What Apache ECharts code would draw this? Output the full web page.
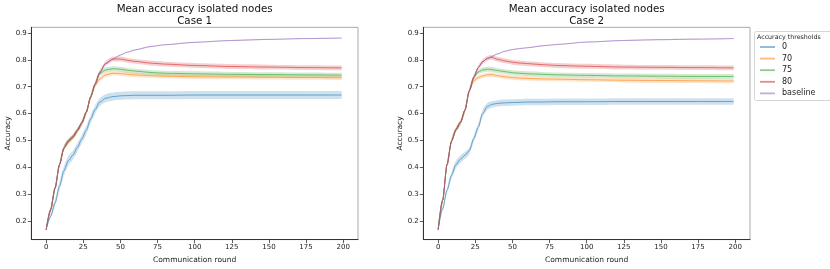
<!DOCTYPE html>
<html><head><meta charset="utf-8">
<script src="https://cdn.jsdelivr.net/npm/echarts@6/dist/echarts.min.js"></script>
<style>html,body{margin:0;padding:0;background:#fff}#c{width:830px;height:269px}</style>
</head><body><div id="c"></div>
<script>
// ---- data ----
const rounds = [0,3,6,9,12,15,18,21,24,27,30,33,36,40,45,50,55,60,70,80,100,125,150,175,199];
const seriesNames = ['0','70','75','80','baseline'];
const colors = ['#1f77b4','#ff7f0e','#2ca02c','#d62728','#9467bd'];
const xTicks = [0,25,50,75,100,125,150,175,200];
const yTicks = [0.2,0.3,0.4,0.5,0.6,0.7,0.8,0.9];
const titles = ['Mean accuracy isolated nodes\nCase 1','Mean accuracy isolated nodes\nCase 2'];

// Case 1
const case1_0        = [0.168,0.217,0.268,0.330,0.388,0.425,0.445,0.474,0.505,0.538,0.580,0.615,0.642,0.657,0.663,0.666,0.667,0.668,0.668,0.668,0.669,0.669,0.669,0.669,0.669];
const case1_70       = [0.168,0.242,0.323,0.410,0.472,0.497,0.513,0.537,0.565,0.605,0.662,0.705,0.728,0.744,0.750,0.749,0.746,0.744,0.741,0.739,0.737,0.736,0.735,0.734,0.733];
const case1_75       = [0.168,0.242,0.323,0.410,0.472,0.497,0.513,0.537,0.565,0.605,0.662,0.710,0.748,0.762,0.767,0.765,0.761,0.758,0.753,0.750,0.748,0.746,0.745,0.744,0.743];
const case1_80       = [0.168,0.242,0.323,0.410,0.472,0.497,0.513,0.537,0.565,0.605,0.662,0.710,0.752,0.786,0.803,0.803,0.798,0.794,0.788,0.784,0.779,0.775,0.773,0.771,0.770];
const case1_baseline = [0.168,0.242,0.323,0.410,0.472,0.497,0.513,0.537,0.565,0.605,0.662,0.710,0.752,0.786,0.803,0.818,0.829,0.837,0.849,0.856,0.865,0.872,0.876,0.879,0.881];
// Case 2
const case2_0        = [0.168,0.245,0.315,0.370,0.410,0.430,0.445,0.462,0.507,0.550,0.600,0.626,0.634,0.638,0.640,0.641,0.642,0.643,0.643,0.644,0.644,0.645,0.645,0.645,0.645];
const case2_70       = [0.168,0.277,0.410,0.497,0.540,0.567,0.612,0.685,0.722,0.734,0.740,0.744,0.745,0.741,0.737,0.734,0.732,0.731,0.729,0.728,0.726,0.724,0.723,0.722,0.721];
const case2_75       = [0.168,0.277,0.410,0.497,0.540,0.567,0.612,0.685,0.735,0.755,0.762,0.765,0.764,0.760,0.756,0.752,0.750,0.748,0.746,0.744,0.742,0.740,0.739,0.738,0.738];
const case2_80       = [0.168,0.277,0.410,0.497,0.540,0.567,0.612,0.685,0.735,0.771,0.793,0.805,0.809,0.802,0.796,0.791,0.788,0.786,0.782,0.779,0.776,0.773,0.772,0.771,0.770];
const case2_baseline = [0.168,0.277,0.410,0.497,0.540,0.567,0.612,0.685,0.735,0.771,0.793,0.805,0.812,0.822,0.832,0.838,0.842,0.845,0.852,0.857,0.866,0.872,0.875,0.877,0.879];

// band half-widths (std)
const case1_0_spread = [0.000,0.007,0.013,0.017,0.018,0.018,0.017,0.016,0.016,0.016,0.016,0.015,0.015,0.015,0.015,0.015,0.015,0.015,0.015,0.015,0.015,0.015,0.015,0.015,0.015];
const case2_0_spread = [0.000,0.007,0.011,0.013,0.014,0.014,0.013,0.013,0.013,0.013,0.013,0.013,0.012,0.012,0.012,0.012,0.012,0.012,0.012,0.012,0.012,0.012,0.012,0.012,0.012];
const spread70 = 0.008, spread75 = 0.009, spread80 = 0.009, spreadBaseline = 0.002;

const cases = [
  {vals:[case1_0,case1_70,case1_75,case1_80,case1_baseline], spreads:[case1_0_spread,spread70,spread75,spread80,spreadBaseline]},
  {vals:[case2_0,case2_70,case2_75,case2_80,case2_baseline], spreads:[case2_0_spread,spread70,spread75,spread80,spreadBaseline]}
];

// ---- chart ----
const FONT = 'DejaVu Sans';
const SMOOTH = 0.3;
const grids = [
  {left:31.3, top:27.3, width:326.7, height:214.7},
  {left:423.3, top:27.3, width:326.7, height:214.7}
];
const chart = echarts.init(document.getElementById('c'), null, {renderer:'canvas'});

// smooth path through pixel points (same scheme as the line series' smoothing)
function smoothSegs(pts, first) {
  let d = first ? 'M' + pts[0][0] + ' ' + pts[0][1] : 'L' + pts[0][0] + ' ' + pts[0][1];
  const n = pts.length;
  const cps = pts.map((p, i) => {
    if (i === 0 || i === n - 1) return {in:p, out:p};
    const pr = pts[i-1], nx = pts[i+1];
    const vx = nx[0] - pr[0], vy = nx[1] - pr[1];
    const d0 = Math.abs(p[0] - pr[0]), d1 = Math.abs(nx[0] - p[0]);
    const ratio = d1 / (d0 + d1);
    let outY = p[1] + vy * SMOOTH * ratio, inY = p[1] - vy * SMOOTH * (1 - ratio);
    outY = Math.min(Math.max(outY, Math.min(p[1], nx[1])), Math.max(p[1], nx[1]));
    inY = Math.min(Math.max(inY, Math.min(p[1], pr[1])), Math.max(p[1], pr[1]));
    return {out:[p[0] + vx * SMOOTH * ratio, outY], in:[p[0] - vx * SMOOTH * (1 - ratio), inY]};
  });
  for (let i = 0; i < n - 1; i++) {
    const a = cps[i].out, b = cps[i+1].in, e = pts[i+1];
    d += 'C' + a[0] + ' ' + a[1] + ' ' + b[0] + ' ' + b[1] + ' ' + e[0] + ' ' + e[1];
  }
  return d;
}

const xAxes = [], yAxes = [], series = [], titleOpts = [];
grids.forEach((g, gi) => {
  xAxes.push({
    type:'value', gridIndex:gi, min:-10, max:210,
    axisLine:{show:true, onZero:false, lineStyle:{color:'#333', width:1}}, splitLine:{show:false},
    axisTick:{show:true, length:3.5, lineStyle:{color:'#333', width:0.8}, customValues:xTicks},
    axisLabel:{fontFamily:FONT, fontSize:7, color:'#222', margin:4.5, customValues:xTicks},
    name:'Communication round', nameLocation:'middle', nameGap:13,
    nameTextStyle:{fontFamily:FONT, fontSize:7.5, color:'#222'}
  });
  yAxes.push({
    type:'value', gridIndex:gi, min:0.131, max:0.921,
    axisLine:{show:true, onZero:false, lineStyle:{color:'#333', width:1}}, splitLine:{show:false},
    axisTick:{show:true, length:3.5, lineStyle:{color:'#333', width:0.8}, customValues:yTicks},
    axisLabel:{fontFamily:FONT, fontSize:7, color:'#222', margin:4.5, customValues:yTicks},
    name:'Accuracy', nameLocation:'middle', nameGap:19,
    nameTextStyle:{fontFamily:FONT, fontSize:7.5, color:'#222'}
  });
  titleOpts.push({
    text:titles[gi], left:g.left + g.width/2, top:3, textAlign:'center', padding:0,
    textStyle:{fontFamily:FONT, fontSize:10.3, fontWeight:'normal', color:'#111', lineHeight:12}
  });
  const cs = cases[gi];
  seriesNames.forEach((nm, k) => {
    const v = cs.vals[k];
    const sp = cs.spreads[k];
    const spAt = i => (Array.isArray(sp) ? sp[i] : (i === 0 ? 0 : sp));
    const bandData = rounds.map((r, i) => [r, v[i] - spAt(i), v[i] + spAt(i)]);
    series.push({
      type:'custom', name:'band_' + nm, xAxisIndex:gi, yAxisIndex:gi, z:1, silent:true,
      data:bandData, encode:{x:0, y:[1,2]},
      renderItem:(params, api) => {
        if (params.dataIndex !== 0) return null;
        const up = bandData.map(d => api.coord([d[0], d[2]]));
        const lo = bandData.map(d => api.coord([d[0], d[1]])).reverse();
        const pathData = smoothSegs(up, true) + smoothSegs(lo, false) + 'Z';
        return {type:'path', shape:{pathData:pathData},
                style:{fill:colors[k], opacity:0.22, stroke:null}};
      }
    });
  });
  seriesNames.forEach((nm, k) => {
    const v = cs.vals[k];
    series.push({
      type:'line', name:nm, xAxisIndex:gi, yAxisIndex:gi, z:2,
      data:rounds.map((r, i) => [r, v[i]]),
      smooth:SMOOTH, smoothMonotone:'x', showSymbol:false, symbol:'none',
      color:colors[k], itemStyle:{color:colors[k], opacity:0.55},
      lineStyle:{color:colors[k], width:1, opacity:0.6},
      emphasis:{disabled:true}, animation:false
    });
  });
});
titleOpts.push({
  text:'Accuracy thresholds', left:757, top:34.5, padding:0,
  textStyle:{fontFamily:FONT, fontSize:6.3, fontWeight:'normal', color:'#222'}
});

chart.setOption({
  animation:false,
  backgroundColor:'#fff',
  title:titleOpts,
  grid:grids.map(g => Object.assign({show:true, borderColor:'#aaa', borderWidth:1, backgroundColor:'transparent'}, g)),
  xAxis:xAxes, yAxis:yAxes,
  legend:{
    data:seriesNames, orient:'vertical', left:760, top:43, padding:0,
    icon:'rect', itemWidth:15, itemHeight:1.8, itemGap:3.6,
    textStyle:{fontFamily:FONT, fontSize:8, color:'#222', padding:[0,0,0,2]},
    selectedMode:false
  },
  graphic:[{
    type:'rect', shape:{x:754.5, y:31.5, width:90, height:69, r:2},
    style:{fill:'#fff', stroke:'#ccc', lineWidth:0.8}, z:0, silent:true
  }],
  series:series
});
</script></body></html>
